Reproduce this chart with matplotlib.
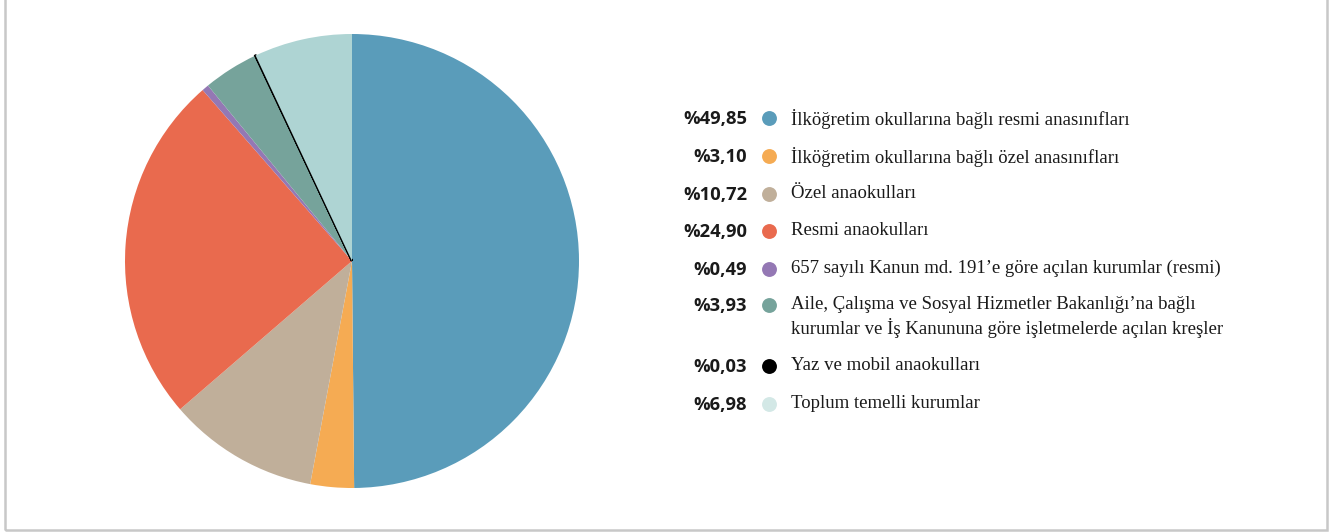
import numpy as np
import matplotlib.pyplot as plt
from matplotlib.patches import Rectangle

yuzdeler = [49.85, 3.10, 10.72, 24.90, 0.49, 3.93, 0.03, 6.98]
etiketler = ['%49,85', '%3,10', '%10,72', '%24,90', '%0,49', '%3,93', '%0,03', '%6,98']
kategoriler = [
    'İlköğretim okullarına bağlı resmi anasınıfları',
    'İlköğretim okullarına bağlı özel anasınıfları',
    'Özel anaokulları',
    'Resmi anaokulları',
    '657 sayılı Kanun md. 191’e göre açılan kurumlar (resmi)',
    'Aile, Çalışma ve Sosyal Hizmetler Bakanlığı’na bağlı\nkurumlar ve İş Kanununa göre işletmelerde açılan kreşler',
    'Yaz ve mobil anaokulları',
    'Toplum temelli kurumlar',
]
renkler = ['#5a9cba', '#f5ab53', '#c0af9a', '#e96a4e', '#9478b4', '#76a39b', '#000000', '#aed4d3']
lejant_renk = ['#5a9cba', '#f5ab53', '#c0af9a', '#e96a4e', '#9478b4', '#76a39b', '#000000', '#d3e8e6']

W, H = 1330, 532
fig = plt.figure(figsize=(13.3, 5.32), dpi=100)

# cerceve
fig.patches.append(Rectangle((5.5 / W, 2.5 / H), 1321 / W, 600 / H, transform=fig.transFigure,
                             fill=False, edgecolor='#c8c8c8', linewidth=1.8))

cx, cy, r = 352, 261, 227
ax = fig.add_axes([(cx - r) / W, (H - cy - r) / H, 2 * r / W, 2 * r / H])
wedges, _ = ax.pie(yuzdeler, colors=renkler, startangle=90, counterclock=False,
                   wedgeprops=dict(linewidth=0))
wedges[6].set_edgecolor('black')
wedges[6].set_linewidth(1.6)
ax.set_xlim(-1, 1)
ax.set_ylim(-1, 1)
ax.set_aspect('equal')

# lejant
lax = fig.add_axes([0, 0, 1, 1])
lax.set_xlim(0, W)
lax.set_ylim(H, 0)
lax.axis('off')
satirlar = [118, 156, 194, 231, 269, 305, 366, 404]
for y, e, k, c in zip(satirlar, etiketler, kategoriler, lejant_renk):
    lax.text(747, y + 1, e, ha='right', va='center', fontsize=13.2, fontweight='bold',
             family='Open Sans', color='#1a1a1a')
    lax.scatter([769], [y], s=115, color=c, linewidths=0)
    lax.text(791, y - 9, k, ha='left', va='top', fontsize=13.5, family='Liberation Serif',
             color='#1a1a1a', linespacing=1.3)

fig.savefig('out.png', dpi=100)
